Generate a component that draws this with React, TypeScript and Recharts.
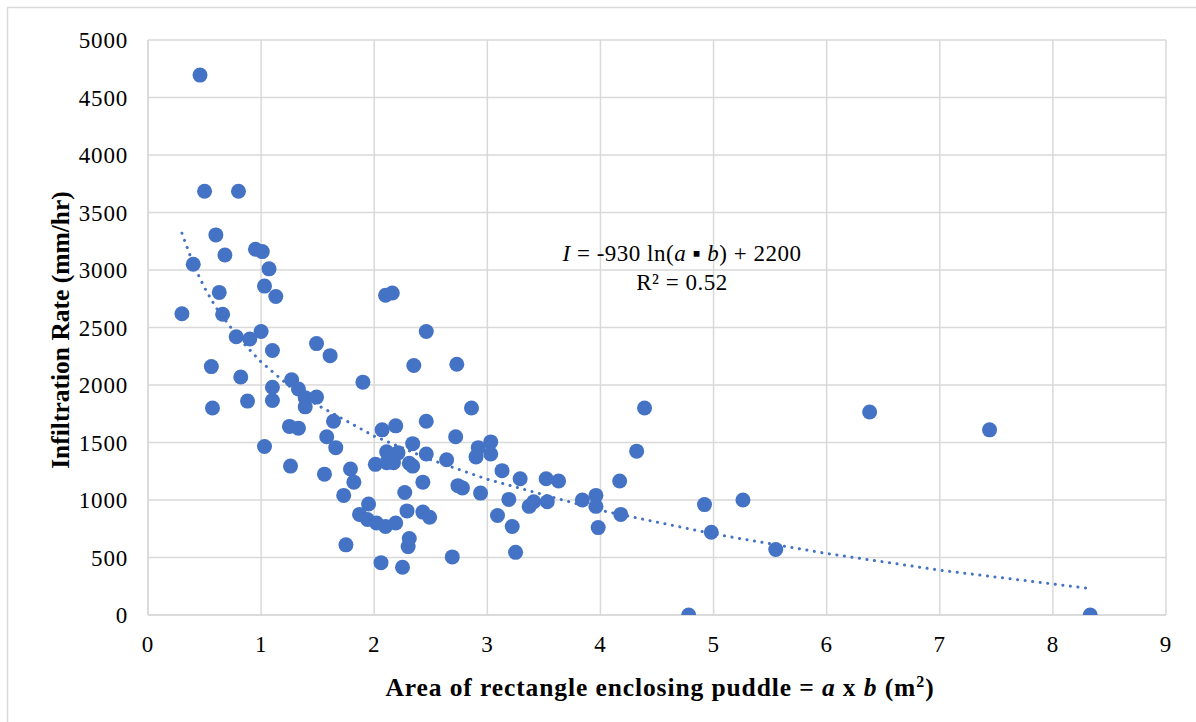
import { CartesianGrid, Scatter, ScatterChart, XAxis, YAxis } from "recharts";

const BLUE = "#4472C4";
const GRID = "#d9d9d9";
const FONT = "'Liberation Serif', 'Times New Roman', serif";

// puddle area (m²) and measured infiltration rate (mm/hr)
const AREA = [
  0.3, 0.4, 0.46, 0.5, 0.56, 0.57, 0.6, 0.63, 0.66, 0.68, 0.78, 0.8, 0.82, 0.88, 0.9, 0.95,
  1.0, 1.01, 1.03, 1.03, 1.07, 1.1, 1.1, 1.1, 1.13, 1.25, 1.26, 1.27, 1.33, 1.33, 1.39, 1.39,
  1.49, 1.49, 1.56, 1.58, 1.61, 1.64, 1.66, 1.73, 1.75, 1.79, 1.82, 1.87, 1.9, 1.94, 1.95,
  2.01, 2.02, 2.06, 2.07, 2.1, 2.1, 2.11, 2.11, 2.16, 2.17, 2.19, 2.19, 2.21, 2.25, 2.27,
  2.29, 2.3, 2.31, 2.31, 2.34, 2.34, 2.35, 2.43, 2.43, 2.46, 2.46, 2.46, 2.49, 2.64, 2.69,
  2.72, 2.73, 2.74, 2.78, 2.86, 2.9, 2.92, 2.94, 3.03, 3.03, 3.09, 3.13, 3.19, 3.22, 3.25,
  3.29, 3.37, 3.41, 3.52, 3.53, 3.63, 3.84, 3.96, 3.96, 3.98, 4.17, 4.18, 4.32, 4.39, 4.78,
  4.92, 4.98, 5.26, 5.55, 6.38, 7.44, 8.33,
];
const RATE = [
  2620, 3050, 4695, 3685, 2160, 1800, 3305, 2805, 2615, 3130, 2420, 3685, 2070, 1860, 2400, 3180,
  2465, 3160, 1465, 2860, 3010, 2300, 1980, 1865, 2770, 1640, 1295, 2045, 1625, 1965, 1890, 1810,
  1895, 2360, 1225, 1550, 2255, 1685, 1455, 1040, 610, 1270, 1155, 875, 2025, 830, 965,
  1310, 800, 455, 1610, 770, 2780, 1420, 1325, 2800, 1325, 800, 1645, 1410, 415, 1065,
  905, 595, 665, 1320, 1295, 1490, 2170, 1155, 895, 2465, 1685, 1400, 850, 1350, 505,
  1550, 2180, 1125, 1105, 1800, 1375, 1455, 1060, 1505, 1400, 865, 1255, 1005, 770, 545,
  1185, 945, 985, 1185, 985, 1165, 1000, 1040, 945, 760, 1165, 875, 1425, 1800, 0,
  960, 720, 1000, 570, 1765, 1610, 0,
];

// dotted logarithmic trendline
const TREND_X = [0.3, 0.4, 0.5, 0.6, 0.8, 1, 1.25, 1.5, 2, 2.5, 3, 4, 5, 6, 7, 8.33];
const TREND_Y = [3320, 3050, 2845, 2675, 2410, 2200, 1990, 1825, 1555, 1350, 1180, 910, 705, 535, 390, 230];

const X_TICKS = [0, 1, 2, 3, 4, 5, 6, 7, 8, 9];
const Y_TICKS = [0, 500, 1000, 1500, 2000, 2500, 3000, 3500, 4000, 4500, 5000];

const points = AREA.map((x, i) => ({ x, y: RATE[i] }));
const trend = TREND_X.map((x, i) => ({ x, y: TREND_Y[i] }));

const tickStyle = { fontFamily: FONT, fontSize: 23, fill: "#000", letterSpacing: 0.8 };

const Dot = (props: any) => <circle cx={props.cx} cy={props.cy} r={7.5} fill={BLUE} />;

export default function App() {
  return (
    <div style={{ position: "absolute", left: 0, top: 0, width: 1196, height: 722, background: "#fff" }}>
      <ScatterChart width={1196} height={722} margin={{ top: 40, right: 30, bottom: 77, left: 0 }}>
        <CartesianGrid stroke={GRID} strokeWidth={1.5} />
        <XAxis
          type="number"
          dataKey="x"
          domain={[0, 9]}
          ticks={X_TICKS}
          height={30}
          tickSize={0}
          tickMargin={21}
          tickLine={false}
          axisLine={{ stroke: GRID, strokeWidth: 1.5 }}
          tick={tickStyle}
          allowDataOverflow
        />
        <YAxis
          type="number"
          dataKey="y"
          domain={[0, 5000]}
          ticks={Y_TICKS}
          width={148}
          tickSize={0}
          tickMargin={20}
          tickLine={false}
          axisLine={{ stroke: GRID, strokeWidth: 1.5 }}
          tick={tickStyle}
          allowDataOverflow
        />
        <Scatter data={points} shape={Dot} isAnimationActive={false} />
        <Scatter
          data={trend}
          line={{ stroke: BLUE, strokeWidth: 3, strokeDasharray: "0.1 7.5", strokeLinecap: "round" }}
          lineType="joint"
          shape={() => null}
          isAnimationActive={false}
        />
      </ScatterChart>
      <svg
        width={1196}
        height={722}
        style={{ position: "absolute", left: 0, top: 0, pointerEvents: "none" }}
        fontFamily={FONT}
      >
        <rect x={7.5} y={7.5} width={1200} height={720} fill="none" stroke={GRID} strokeWidth={1.5} />
        <text x={682} y={261} textAnchor="middle" fontSize={23} letterSpacing={0.5}>
          <tspan fontStyle="italic">I</tspan> = -930 ln(<tspan fontStyle="italic">a</tspan> ▪{" "}
          <tspan fontStyle="italic">b</tspan>) + 2200
        </text>
        <text x={682} y={290} textAnchor="middle" fontSize={23} letterSpacing={0.5}>
          R² = 0.52
        </text>
        <text x={660} y={696} textAnchor="middle" fontSize={25.5} fontWeight="bold" letterSpacing={0.9}>
          Area of rectangle enclosing puddle = <tspan fontStyle="italic">a</tspan> x{" "}
          <tspan fontStyle="italic">b</tspan> (m
          <tspan dy={-9} fontSize={16}>
            2
          </tspan>
          <tspan dy={9}>)</tspan>
        </text>
        <text
          x={0}
          y={0}
          transform="translate(69 330) rotate(-90)"
          textAnchor="middle"
          fontSize={25.5}
          fontWeight="bold"
        >
          Infiltration Rate (mm/hr)
        </text>
      </svg>
    </div>
  );
}
